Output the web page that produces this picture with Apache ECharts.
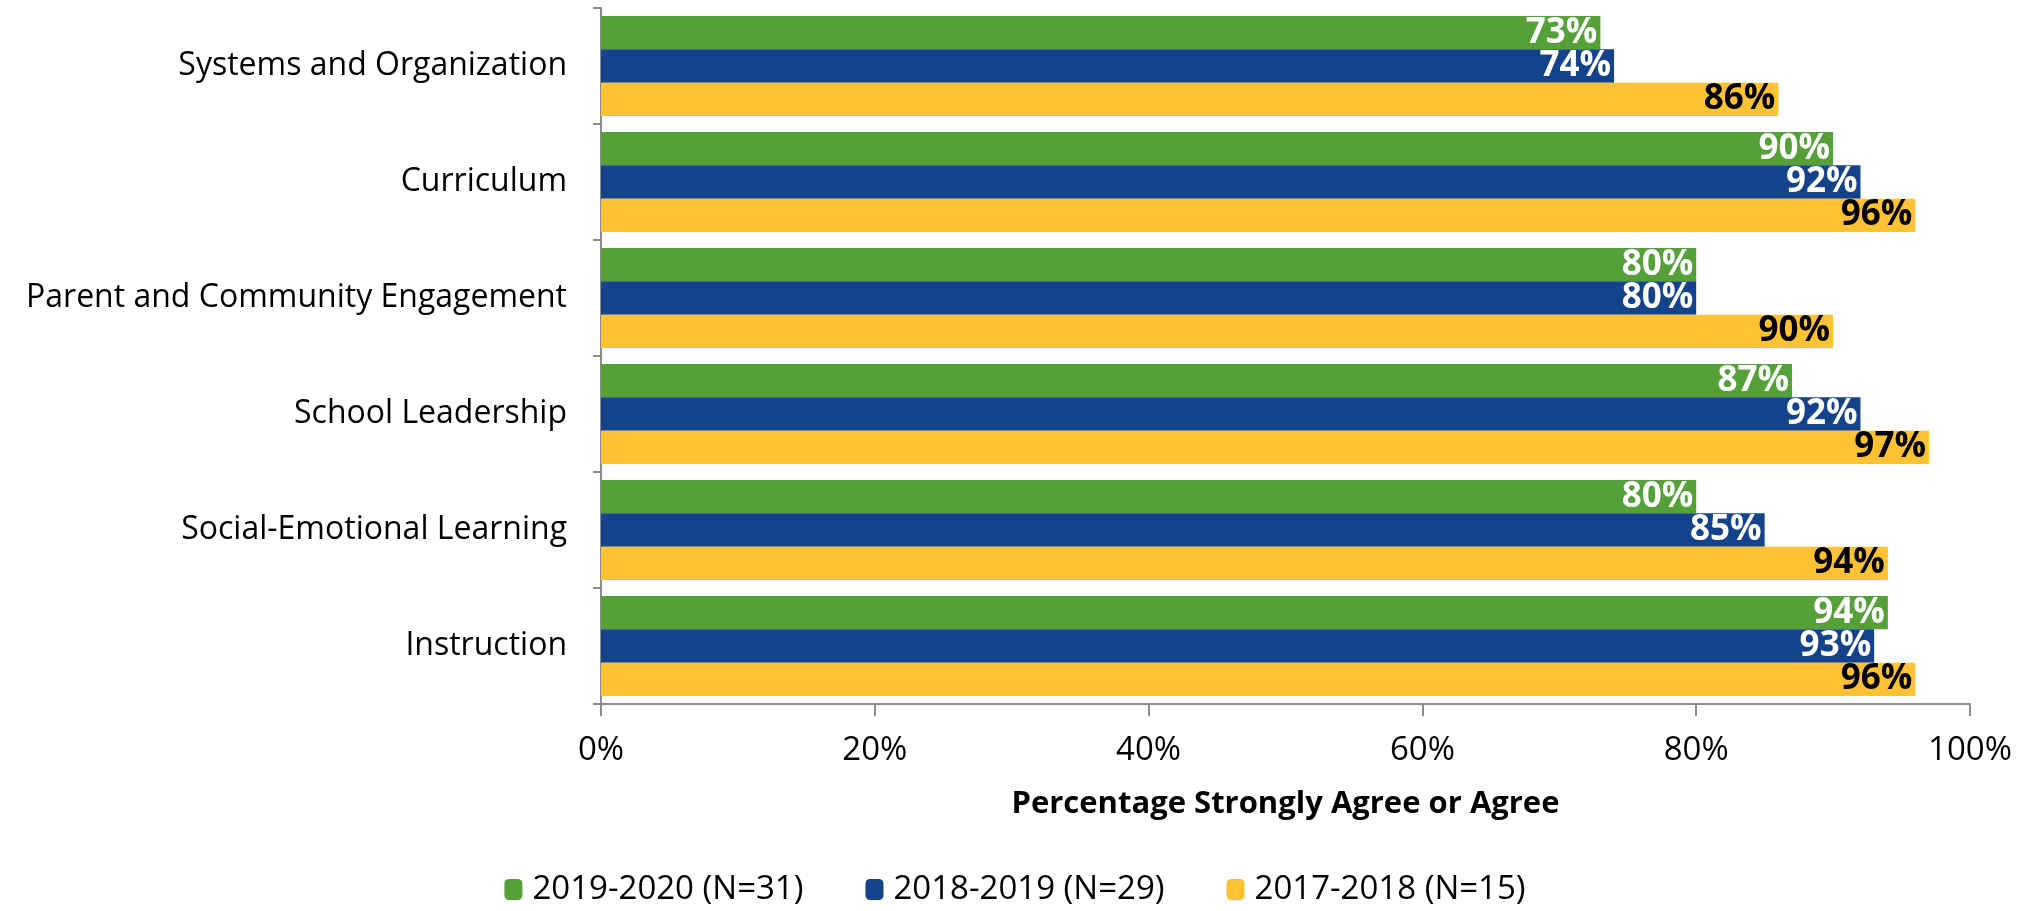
<!DOCTYPE html>
<html><head><meta charset="utf-8">
<script src="https://cdn.jsdelivr.net/npm/echarts@6/dist/echarts.min.js"></script>
<style>html,body{margin:0;padding:0;background:#fff}#c{width:2030px;height:911px}</style>
</head><body><div id="c"></div>
<script>
const categories = ["Systems and Organization","Curriculum","Parent and Community Engagement","School Leadership","Social-Emotional Learning","Instruction"];
const seriesNames = ["2019-2020 (N=31)","2018-2019 (N=29)","2017-2018 (N=15)"];
const values2019 = [73,90,80,87,80,94];
const values2018 = [74,92,80,92,85,93];
const values2017 = [86,96,90,97,94,96];
const xTicks = [0,20,40,60,80,100];
const colors = ["#55A039","#15438B","#FFC232"];
const labelColors = ["#ffffff","#ffffff","#000000"];
const FONT = "Open Sans";
const allVals = [values2019, values2018, values2017];
const chart = echarts.init(document.getElementById('c'), null, {renderer:'canvas'});
chart.setOption({
  animation:false,
  textStyle:{fontFamily:FONT},
  grid:{left:601, right:60, top:8, bottom:207},
  legend:{bottom:0, left:'center', itemWidth:18, itemHeight:21, itemGap:62,
    textStyle:{fontSize:33, color:'#000', fontFamily:FONT, padding:[0,0,0,5]},
    data:seriesNames},
  xAxis:{type:'value', min:xTicks[0], max:xTicks[xTicks.length-1], interval:xTicks[1]-xTicks[0],
    axisLine:{show:true, lineStyle:{color:'#8c8c8c', width:2}},
    axisTick:{show:true, length:12, lineStyle:{color:'#8c8c8c', width:2}},
    splitLine:{show:false},
    axisLabel:{formatter:v=>v+'%', fontSize:33, color:'#000', margin:30},
    name:'Percentage Strongly Agree or Agree', nameLocation:'middle', nameGap:85,
    nameTextStyle:{fontSize:31, fontWeight:'bold', color:'#000'}},
  yAxis:{type:'category', data:categories, inverse:true,
    axisLine:{show:true, lineStyle:{color:'#8c8c8c', width:2}},
    axisTick:{show:true, length:8, lineStyle:{color:'#8c8c8c', width:2}},
    axisLabel:{fontSize:32, color:'#000', margin:34}},
  series: seriesNames.map((n,i)=>({
    name:n, type:'bar', data:allVals[i], barGap:'0%', barCategoryGap:'14%',
    itemStyle:{color:colors[i]},
    label:{show:true, position:'insideRight', formatter:p=>p.value+'%', fontSize:35, fontWeight:'bold', color:labelColors[i], distance:3}
  }))
});
</script></body></html>
